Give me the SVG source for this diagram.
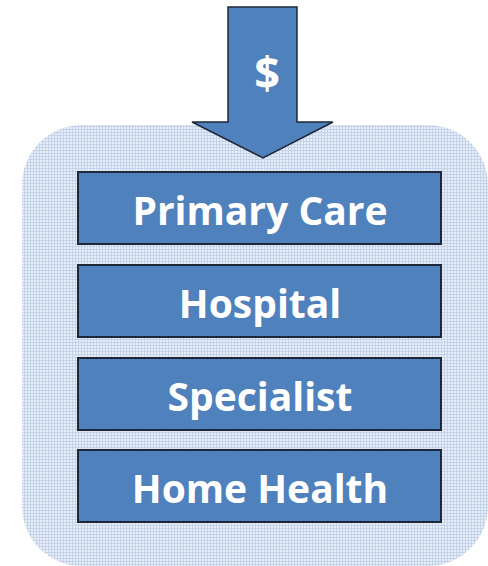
<svg xmlns="http://www.w3.org/2000/svg" width="488" height="566" viewBox="0 0 488 566">
<defs>
<pattern id="grid" width="3" height="3" patternUnits="userSpaceOnUse">
<rect width="3" height="3" fill="#c5d3e8"/>
<rect x="1" y="1" width="2" height="2" fill="#e8eef7"/>
</pattern>
</defs>
<style>
.box{fill:#4f81bd;stroke:#1e2838;stroke-width:2}
.lbl{font-family:"Open Sans","Liberation Sans",sans-serif;font-weight:bold;font-size:39px;fill:#ffffff;text-anchor:middle}
</style>
<g id="background">
<rect x="22" y="125" width="466" height="441" rx="60" ry="60" fill="url(#grid)"/>
</g>
<g id="arrow">
<path d="M228,7 L297,7 L297,122 L333,122 L263,158 L192,122 L228,122 Z" fill="#4f81bd" stroke="#1e2838" stroke-width="1.5" stroke-linejoin="miter"/>
<text class="lbl" x="267" y="89" style="font-size:45px">$</text>
</g>
<g id="primary-care">
<rect class="box" x="78" y="172" width="363" height="72"/>
<text class="lbl" x="260" y="225">Primary Care</text>
</g>
<g id="hospital">
<rect class="box" x="78" y="265" width="363" height="72"/>
<text class="lbl" x="260" y="318">Hospital</text>
</g>
<g id="specialist">
<rect class="box" x="78" y="358" width="363" height="72"/>
<text class="lbl" x="260" y="411">Specialist</text>
</g>
<g id="home-health">
<rect class="box" x="78" y="450" width="363" height="72"/>
<text class="lbl" x="260" y="503">Home Health</text>
</g>
</svg>
